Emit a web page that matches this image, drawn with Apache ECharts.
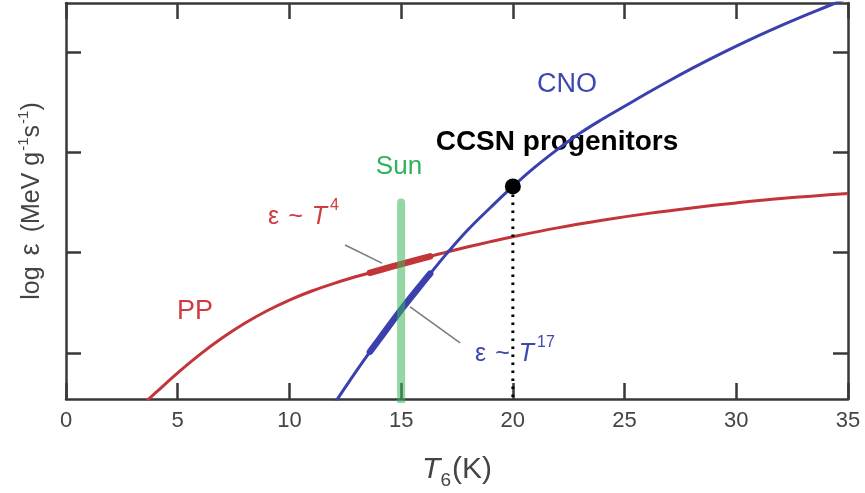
<!DOCTYPE html>
<html>
<head>
<meta charset="utf-8">
<script src="https://cdn.jsdelivr.net/npm/echarts@6/dist/echarts.min.js"></script>
<style>
  html, body { margin: 0; padding: 0; background: #fff; }
  #chart { width: 865px; height: 493px; }
</style>
</head>
<body>
<div id="chart"></div>
<script>
// Temperature axis (T6) ticks
const xTicks = [0, 5, 10, 15, 20, 25, 30, 35];
// log energy generation rate ticks (unlabelled)
const yTicks = [0, 1, 2, 3];

// p-p chain curve
const ppT   = [3.6, 4, 5, 6, 7, 8, 9, 10, 11, 12, 13, 13.6, 14, 15, 16, 16.3, 17, 18, 19, 20, 22, 24, 26, 28, 30, 32, 35];
const ppLog = [-0.48, -0.40, -0.20, -0.015, 0.15, 0.295, 0.42, 0.527, 0.617, 0.694, 0.762, 0.799, 0.824, 0.886, 0.946, 0.963, 1.003, 1.058, 1.11, 1.159, 1.247, 1.323, 1.389, 1.446, 1.496, 1.539, 1.589];

// CNO cycle curve
const cnoT   = [12, 13, 13.6, 14, 15, 16, 16.3, 17, 18, 19, 20, 21, 22, 23, 24, 25, 26, 27, 28, 29, 30, 31, 32, 33, 34, 35];
const cnoLog = [-0.51, -0.18, 0.01, 0.13, 0.43, 0.71, 0.79, 0.98, 1.23, 1.45, 1.66, 1.855, 2.03, 2.19, 2.33, 2.46, 2.59, 2.715, 2.835, 2.95, 3.06, 3.165, 3.265, 3.36, 3.45, 3.54];

// Solar core temperature range highlighted on both curves
const sunRange = [13.6, 16.3];
const sunT = 15;
const sunTop = 1.5;

// Core-collapse supernova progenitor marker
const ccsnT = 20;
const ccsnLog = 1.66;

const yMin = -0.46, yMax = 3.49;
const FONT = '"Liberation Sans", Arial, sans-serif';

const pairs = (xs, ys) => xs.map((x, i) => [x, ys[i]]);
const inRange = (xs, ys, r) => pairs(xs, ys).filter(p => p[0] >= r[0] && p[0] <= r[1]);

const RED = '#c2363b';
const BLUE = '#3a40ad';
const RED_TXT = '#cf3b3f';
const BLUE_TXT = '#3d47b0';
const AXIS = '#383838';

const chart = echarts.init(document.getElementById('chart'), null, { renderer: 'canvas' });

const baseX = {
  type: 'value', min: 0, max: 35, interval: 5,
  axisLine: { show: true, onZero: false, lineStyle: { color: AXIS, width: 2.5 } },
  axisTick: { show: true, inside: true, length: 16, lineStyle: { color: AXIS, width: 2.5 } },
  splitLine: { show: false }
};
const baseY = {
  type: 'value', min: yMin, max: yMax,
  axisLine: { show: true, onZero: false, lineStyle: { color: AXIS, width: 2.5 } },
  axisTick: { show: true, inside: true, length: 15, customValues: yTicks, lineStyle: { color: AXIS, width: 2.5 } },
  axisLabel: { show: false },
  splitLine: { show: false }
};

// rich-text label "ε ~ T^n"
function powerLabel(exp, color) {
  const base = { fontSize: 25, fontFamily: FONT, fill: color, lineHeight: 34, verticalAlign: 'bottom' };
  return {
    text: '{a|ε}{g|}{a|~}{g|}{t|T}{s|' + exp + '}',
    align: 'left', verticalAlign: 'middle',
    rich: {
      a: base,
      g: Object.assign({}, base, { width: 9 }),
      t: Object.assign({}, base, { fontStyle: 'italic' }),
      s: { fontSize: 16, fontFamily: FONT, fill: color, lineHeight: 34, verticalAlign: 'top', padding: [2, 0, 0, 3] }
    }
  };
}

const option = {
  animation: false,
  backgroundColor: '#fff',
  grid: { left: 66, right: 17, top: 3, bottom: 94, containLabel: false },
  xAxis: [
    Object.assign({}, baseX, {
      position: 'bottom',
      axisLabel: { show: true, fontSize: 22, color: '#444', margin: 11, fontFamily: FONT,
                   customValues: xTicks }
    }),
    Object.assign({}, baseX, { position: 'top', axisLabel: { show: false } })
  ],
  yAxis: [
    Object.assign({}, baseY, { position: 'left' }),
    Object.assign({}, baseY, { position: 'right' })
  ],
  series: [
    { name: 'PP', type: 'line', data: pairs(ppT, ppLog), smooth: 0.4, showSymbol: false, clip: true,
      lineStyle: { color: RED, width: 3 }, z: 2 },
    { name: 'CNO', type: 'line', data: pairs(cnoT, cnoLog), smooth: 0.4, showSymbol: false, clip: true,
      lineStyle: { color: BLUE, width: 3 }, z: 2 },
    { name: 'PP sun', type: 'line', data: inRange(ppT, ppLog, sunRange), smooth: 0.4, showSymbol: false,
      lineStyle: { color: RED, width: 6.5, cap: 'round' }, z: 3 },
    { name: 'CNO sun', type: 'line', data: inRange(cnoT, cnoLog, sunRange), smooth: 0.4, showSymbol: false,
      lineStyle: { color: BLUE, width: 6.5, cap: 'round' }, z: 3 },
    { name: 'Sun', type: 'line', data: [[sunT, yMin - 0.1], [sunT, sunTop]], showSymbol: false, clip: true,
      lineStyle: { color: 'rgba(60,180,90,0.55)', width: 8, cap: 'round' }, z: 4 },
    { name: 'leader PP', type: 'line', data: [[12.49, 1.076], [14.14, 0.895]], showSymbol: false,
      lineStyle: { color: '#7a7a7a', width: 1.5 }, z: 1 },
    { name: 'leader CNO', type: 'line', data: [[15.4, 0.458], [17.64, 0.099]], showSymbol: false,
      lineStyle: { color: '#7a7a7a', width: 1.5 }, z: 1 },
    { name: 'CCSN drop', type: 'line', data: [[ccsnT, ccsnLog], [ccsnT, yMin]], showSymbol: false,
      lineStyle: { color: '#000', width: 3, type: [2.5, 5.5], cap: 'butt' }, z: 5 },
    { name: 'CCSN', type: 'scatter', data: [[ccsnT, ccsnLog]], symbol: 'circle', symbolSize: 16,
      itemStyle: { color: '#000', opacity: 1 }, z: 6 }
  ],
  graphic: [
    { type: 'text', x: 29, y: 201, rotation: Math.PI / 2,
      style: { text: '{a|log}{g|}{e|ε}{g|}{a|(MeV g}{s|-1}{a|s}{s|-1}{a|)}', align: 'center', verticalAlign: 'middle',
        rich: {
          a: { fontSize: 25, fontFamily: FONT, fill: '#444', lineHeight: 32, verticalAlign: 'bottom' },
          e: { fontSize: 27, fontFamily: FONT, fill: '#444', lineHeight: 32, verticalAlign: 'bottom' },
          g: { fontSize: 25, fontFamily: FONT, fill: '#444', lineHeight: 32, width: 11 },
          s: { fontSize: 15, fontFamily: FONT, fill: '#444', lineHeight: 32, verticalAlign: 'top', padding: [3, 0, 0, 1] }
        } } },
    { type: 'text', x: 457, y: 470,
      style: { text: '{t|T}{s|6}{a|(K)}', align: 'center', verticalAlign: 'middle',
        rich: {
          t: { fontSize: 30, fontFamily: FONT, fontStyle: 'italic', fill: '#444', lineHeight: 40, verticalAlign: 'middle' },
          s: { fontSize: 19, fontFamily: FONT, fill: '#444', lineHeight: 40, verticalAlign: 'bottom', padding: [0, 1, 0, 0] },
          a: { fontSize: 30, fontFamily: FONT, fill: '#444', lineHeight: 40, verticalAlign: 'middle' }
        } } },
    { type: 'text', x: 567, y: 85,
      style: { text: 'CNO', fontSize: 27, fontFamily: FONT, fill: BLUE_TXT, align: 'center', verticalAlign: 'middle' } },
    { type: 'text', x: 195, y: 312,
      style: { text: 'PP', fontSize: 27, fontFamily: FONT, fill: RED_TXT, align: 'center', verticalAlign: 'middle' } },
    { type: 'text', x: 399, y: 167,
      style: { text: 'Sun', fontSize: 26, fontFamily: FONT, fill: '#2eb35c', align: 'center', verticalAlign: 'middle' } },
    { type: 'text', x: 557, y: 142,
      style: { text: 'CCSN progenitors', fontSize: 28, fontWeight: 'bold', fontFamily: FONT, fill: '#000', align: 'center', verticalAlign: 'middle' } },
    { type: 'text', x: 268, y: 213, style: powerLabel('4', RED_TXT) },
    { type: 'text', x: 475, y: 350, style: powerLabel('17', BLUE_TXT) }
  ]
};

chart.setOption(option);
</script>
</body>
</html>
